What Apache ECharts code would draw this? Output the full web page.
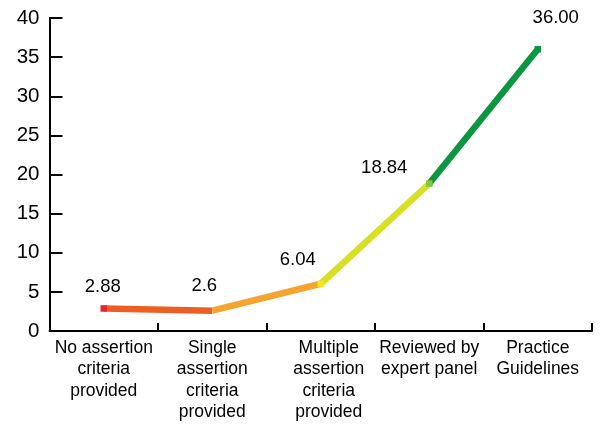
<!DOCTYPE html>
<html>
<head>
<meta charset="utf-8">
<script src="https://cdn.jsdelivr.net/npm/echarts@6/dist/echarts.min.js"></script>
<style>
html,body{margin:0;padding:0;background:#fff;}
#chart{width:605px;height:426px;}
</style>
</head>
<body>
<div id="chart"></div>
<script>
// ---- data ----
const categories = [
  "No assertion\ncriteria\nprovided",
  "Single\nassertion\ncriteria\nprovided",
  "Multiple\nassertion\ncriteria\nprovided",
  "Reviewed by\nexpert panel",
  "Practice\nGuidelines"
];
const values = [2.88, 2.6, 6.04, 18.84, 36.00];
const valueLabels = ["2.88", "2.6", "6.04", "18.84", "36.00"];
const yTicks = [0, 5, 10, 15, 20, 25, 30, 35, 40];

// ---- styles ----
const segmentColors = ["#ec5e24", "#f5a431", "#d8e024", "#0b9640"];
const markerColors = ["#e8252a", null, "#fce41c", "#8bc53f", "#0b9640"];
const labelOffsets = [[-1, -22], [-8, -25], [-23, -24], [-45, -16], [18, -31]];
const catPadding = [0, 0, 16, 0, 0];
const FONT = "'Liberation Sans', Arial, Helvetica, sans-serif";

const chart = echarts.init(document.getElementById('chart'), null, {renderer: 'canvas'});

const segmentSeries = segmentColors.map((c, i) => ({
  type: 'line',
  data: values.map((v, j) => (j === i || j === i + 1) ? v : '-'),
  symbol: 'none',
  connectNulls: false,
  lineStyle: {color: c, width: 6.5, cap: 'butt', join: 'bevel', opacity: 1},
  z: 2,
  silent: true,
  animation: false
}));

const markerSeries = {
  type: 'scatter',
  symbol: 'rect',
  itemStyle: {opacity: 1},
  data: values.map((v, i) => ({
    value: v,
    symbolSize: markerColors[i] ? 6.5 : 0,
    itemStyle: {color: markerColors[i] || 'transparent', opacity: 1},
    label: {
      show: true,
      position: 'inside',
      offset: labelOffsets[i],
      formatter: () => valueLabels[i]
    }
  })),
  label: {
    color: '#000',
    opacity: 1,
    textBorderWidth: 0,
    textBorderColor: 'transparent',
    fontSize: 18.5,
    fontFamily: FONT
  },
  z: 3,
  silent: true,
  animation: false
};

chart.setOption({
  backgroundColor: '#ffffff',
  animation: false,
  grid: {left: 49.5, right: 13, top: 18, bottom: 95, containLabel: false},
  xAxis: {
    type: 'category',
    data: categories.map((c, i) => ({
      value: c,
      textStyle: {padding: [0, 0, 0, catPadding[i]]}
    })),
    boundaryGap: true,
    axisLine: {show: true, lineStyle: {color: '#000', width: 2}},
    axisTick: {show: true, inside: true, length: 8, lineStyle: {color: '#000', width: 2}},
    axisLabel: {
      interval: 0,
      color: '#000',
      fontSize: 17.5,
      lineHeight: 21.5,
      fontFamily: FONT,
      margin: 6,
      verticalAlign: 'top'
    },
    splitLine: {show: false}
  },
  yAxis: {
    type: 'value',
    min: yTicks[0],
    max: yTicks[yTicks.length - 1],
    interval: yTicks[1] - yTicks[0],
    axisLine: {show: true, lineStyle: {color: '#000', width: 2}},
    axisTick: {show: true, inside: true, length: 13, lineStyle: {color: '#000', width: 2}},
    axisLabel: {color: '#000', fontSize: 20.5, fontFamily: FONT, margin: 10},
    splitLine: {show: false}
  },
  series: segmentSeries.concat([markerSeries])
});
</script>
</body>
</html>
